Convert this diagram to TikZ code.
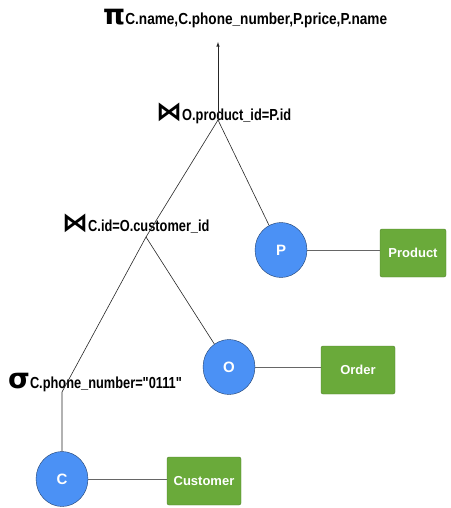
\documentclass[tikz,border=0pt]{standalone}
\usepackage{fontspec}
\setmainfont{Liberation Sans}
\newfontfamily\labfont[FakeStretch=0.8]{Liberation Sans}
\newfontfamily\projfont[FakeStretch=0.85]{Liberation Sans}
\newfontfamily\opfont{DejaVu Sans}
\usetikzlibrary{shapes.geometric}
\definecolor{relblue}{RGB}{75,145,245}
\definecolor{tblgreen}{RGB}{106,170,58}

\begin{document}
\begin{tikzpicture}[x=1pt,y=-1pt,
  rel/.style={ellipse,fill=relblue,draw=relblue!45!black,minimum width=52pt,minimum height=55pt,inner sep=0pt,text=white,font=\bfseries\fontsize{15}{15}\selectfont},
  tbl/.style={rectangle,rounded corners=2pt,fill=tblgreen,draw=tblgreen!75!black,minimum height=48pt,inner sep=0pt,text=white,font=\bfseries\fontsize{13}{13}\selectfont},
  op/.style={anchor=base west,inner sep=0pt},
  edge/.style={draw=black!85,line width=0.6pt},
  link/.style={draw=black!60,line width=0.8pt}]
  \useasboundingbox (0,0) rectangle (450,508);

  % relations and tables
  \node[rel] (P) at (281,250) {P};
  \node[rel] (O) at (229,367) {O};
  \node[rel] (C) at (62,479) {C};
  \node[tbl,minimum width=66pt] (product) at (413,253) {Product};
  \node[tbl,minimum width=74pt] (order) at (358,370) {Order};
  \node[tbl,minimum width=74pt] (customer) at (204,481) {Customer};

  % operators
  \node[op] (proj) at (103,25) {\opfont\bfseries\fontsize{28}{28}\selectfont π\projfont\fontsize{16}{16}\selectfont C.name,C.phone\_number,P.price,P.name};
  \node[op] (join1) at (156,121) {\opfont\bfseries\fontsize{26}{26}\selectfont ⋈\labfont\fontsize{16}{16}\selectfont O.product\_id=P.id};
  \node[op] (join2) at (62,231) {\opfont\bfseries\fontsize{26}{26}\selectfont ⋈\labfont\fontsize{16}{16}\selectfont C.id=O.customer\_id};
  \node[op] (sel) at (8,388) {\opfont\bfseries\fontsize{28}{28}\selectfont σ\labfont\fontsize{16}{16}\selectfont C.phone\_number="0111"};

  \coordinate (top) at (218,42);
  \coordinate (j1) at (218,120);
  \coordinate (j2) at (146,237);
  \coordinate (s) at (62,392);

  % tree
  \draw[edge,-latex] (j1) -- (top);
  \draw[edge] (j1) -- (P);
  \draw[edge] (j1) -- (j2);
  \draw[edge] (j2) -- (O);
  \draw[edge] (j2) -- (s) -- (C);

  \draw[link] (P.east) -- (P.east -| product.west);
  \draw[link] (O.east) -- (O.east -| order.west);
  \draw[link] (C.east) -- (C.east -| customer.west);
\end{tikzpicture}
\end{document}
